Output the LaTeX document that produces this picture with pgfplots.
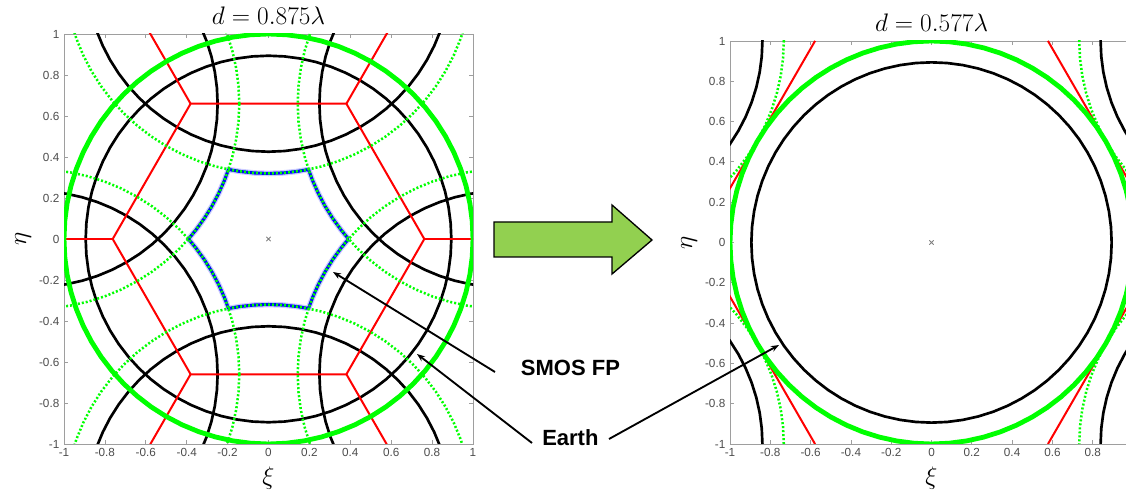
\RequirePackage{fix-cm}
\documentclass[border=0pt]{standalone}
\usepackage{fontspec}
\setmainfont{Liberation Sans}
\usepackage{pgfplots}
\pgfplotsset{compat=1.18}
\usepackage{pgfplotstable}
\usetikzlibrary{arrows.meta}

\definecolor{lgreen}{RGB}{0,255,0}
\definecolor{agreen}{RGB}{146,208,80}

% unit circle (5 degree steps)
\pgfplotstableread{
c s
1.0000 0.0000
0.9962 0.0872
0.9848 0.1736
0.9659 0.2588
0.9397 0.3420
0.9063 0.4226
0.8660 0.5000
0.8192 0.5736
0.7660 0.6428
0.7071 0.7071
0.6428 0.7660
0.5736 0.8192
0.5000 0.8660
0.4226 0.9063
0.3420 0.9397
0.2588 0.9659
0.1736 0.9848
0.0872 0.9962
0.0000 1.0000
-0.0872 0.9962
-0.1736 0.9848
-0.2588 0.9659
-0.3420 0.9397
-0.4226 0.9063
-0.5000 0.8660
-0.5736 0.8192
-0.6428 0.7660
-0.7071 0.7071
-0.7660 0.6428
-0.8192 0.5736
-0.8660 0.5000
-0.9063 0.4226
-0.9397 0.3420
-0.9659 0.2588
-0.9848 0.1736
-0.9962 0.0872
-1.0000 0.0000
-0.9962 -0.0872
-0.9848 -0.1736
-0.9659 -0.2588
-0.9397 -0.3420
-0.9063 -0.4226
-0.8660 -0.5000
-0.8192 -0.5736
-0.7660 -0.6428
-0.7071 -0.7071
-0.6428 -0.7660
-0.5736 -0.8192
-0.5000 -0.8660
-0.4226 -0.9063
-0.3420 -0.9397
-0.2588 -0.9659
-0.1736 -0.9848
-0.0872 -0.9962
0.0000 -1.0000
0.0872 -0.9962
0.1736 -0.9848
0.2588 -0.9659
0.3420 -0.9397
0.4226 -0.9063
0.5000 -0.8660
0.5736 -0.8192
0.6428 -0.7660
0.7071 -0.7071
0.7660 -0.6428
0.8192 -0.5736
0.8660 -0.5000
0.9063 -0.4226
0.9397 -0.3420
0.9659 -0.2588
0.9848 -0.1736
0.9962 -0.0872
1.0000 0.0000
}\uc

% SMOS alias-free field of view boundary (d = 0.875 lambda)
\pgfplotstableread{
x y
0.39144 0.00000
0.35485 0.04414
0.31383 0.10064
0.27683 0.15983
0.24407 0.22147
0.21562 0.28526
0.19572 0.33899
0.13917 0.32939
0.06976 0.32210
0.00000 0.31966
-0.06976 0.32210
-0.13917 0.32939
-0.19572 0.33899
-0.21562 0.28526
-0.24407 0.22147
-0.27683 0.15983
-0.31383 0.10064
-0.35485 0.04414
-0.39144 0.00000
-0.35485 -0.04414
-0.31383 -0.10064
-0.27683 -0.15983
-0.24407 -0.22147
-0.21562 -0.28526
-0.19572 -0.33899
-0.13917 -0.32939
-0.06976 -0.32210
0.00000 -0.31966
0.06976 -0.32210
0.13917 -0.32939
0.19572 -0.33899
0.21562 -0.28526
0.24407 -0.22147
0.27683 -0.15983
0.31383 -0.10064
0.35485 -0.04414
0.39144 0.00000
}\fovA

\newcommand{\circplot}[4]{\addplot[#1] table[x expr={#2*\thisrow{c}+(#3)}, y expr={#2*\thisrow{s}+(#4)}]{\uc};}

\pgfplotsset{
  myax/.style={
    scale only axis,
    xmin=-1, xmax=1, ymin=-1, ymax=1,
    xtick={-1,-0.8,-0.6,-0.4,-0.2,0,0.2,0.4,0.6,0.8,1},
    ytick={-1,-0.8,-0.6,-0.4,-0.2,0,0.2,0.4,0.6,0.8,1},
    tick align=inside,
    major tick length=3pt,
    axis line style={black!38, line width=0.6pt},
    every tick/.style={black!38, line width=0.6pt},
    ticklabel style={font=\fontsize{8.8}{10}\selectfont, text=black!70},
    /pgf/number format/assume math mode=true,
    xlabel={$\xi$}, ylabel={$\eta$},
    label style={font=\fontsize{19}{22}\selectfont},
    title style={font=\fontsize{19}{21}\selectfont, at={(0.5,1)}, anchor=base, yshift=0.75pt},
  },
  blk/.style={black, line width=2pt, line join=round},
  gdot/.style={lgreen, line width=1.9pt, dash pattern=on 1.5pt off 1.5pt},
  gthick/.style={lgreen, line width=3.6pt, line join=round},
  hexl/.style={red, line width=1.5pt, line join=round},
}

\begin{document}
\begin{tikzpicture}
\path[use as bounding box] (0pt,0pt) rectangle (844.5pt,368.25pt);
\clip (0pt,0pt) rectangle (844.5pt,368.25pt);

% ---------------- left: d = 0.875 lambda ----------------
\begin{axis}[myax, at={(48pt,35.25pt)}, anchor=south west,
  width=306.75pt, height=307.5pt,
  title={$d=0.875\lambda$},
  xlabel style={at={(0.5,-0.0976)}, anchor=base},
  ylabel style={at={(-0.0929,0.5)}, anchor=base}]
  % Earth aliases
  \circplot{blk}{0.894}{0}{0}
  \circplot{blk}{0.894}{0}{1.31966}
  \circplot{blk}{0.894}{0}{-1.31966}
  \circplot{blk}{0.894}{1.14286}{0.65983}
  \circplot{blk}{0.894}{1.14286}{-0.65983}
  \circplot{blk}{0.894}{-1.14286}{0.65983}
  \circplot{blk}{0.894}{-1.14286}{-0.65983}
  % hexagonal period
  \addplot[hexl] coordinates {(0.76190,0) (0.38095,0.65983) (-0.38095,0.65983) (-0.76190,0) (-0.38095,-0.65983) (0.38095,-0.65983) (0.76190,0)};
  \addplot[hexl] coordinates {(0.76190,0) (1.52381,0)};
  \addplot[hexl] coordinates {(-0.76190,0) (-1.52381,0)};
  \addplot[hexl] coordinates {(0.38095,0.65983) (0.76190,1.31966)};
  \addplot[hexl] coordinates {(-0.38095,0.65983) (-0.76190,1.31966)};
  \addplot[hexl] coordinates {(0.38095,-0.65983) (0.76190,-1.31966)};
  \addplot[hexl] coordinates {(-0.38095,-0.65983) (-0.76190,-1.31966)};
  % SMOS FP
  \addplot[blue!20, line width=4.2pt, line join=round] table[x=x, y=y]{\fovA};
  \addplot[blue, line width=2.3pt, line join=round] table[x=x, y=y]{\fovA};
  % unit-circle aliases
  \circplot{gdot}{1}{0}{1.31966}
  \circplot{gdot}{1}{0}{-1.31966}
  \circplot{gdot}{1}{1.14286}{0.65983}
  \circplot{gdot}{1}{1.14286}{-0.65983}
  \circplot{gdot}{1}{-1.14286}{0.65983}
  \circplot{gdot}{1}{-1.14286}{-0.65983}
  % Earth (unit circle)
  \circplot{gthick}{1}{0}{0}
  \addplot[black!50, mark=x, mark size=2.3pt, line width=0.6pt, only marks] coordinates {(0,0)};
\end{axis}

% ---------------- right: d = 0.577 lambda ----------------
\begin{axis}[myax, at={(547.5pt,35.25pt)}, anchor=south west,
  width=302.25pt, height=302.25pt,
  xtick={-1,-0.8,-0.6,-0.4,-0.2,0,0.2,0.4,0.6,0.8},
  title={$d=0.577\lambda$},
  xlabel style={at={(0.5,-0.0993)}, anchor=base},
  ylabel style={at={(-0.0943,0.5)}, anchor=base}]
  \circplot{blk}{0.894}{0}{0}
  \circplot{blk}{0.894}{1.73311}{1.00061}
  \circplot{blk}{0.894}{1.73311}{-1.00061}
  \circplot{blk}{0.894}{-1.73311}{1.00061}
  \circplot{blk}{0.894}{-1.73311}{-1.00061}
  % slanted edges of the hexagonal period (top and bottom edges lie just outside)
  \addplot[hexl] coordinates {(0.57770,1.00061) (1.15540,0) (0.57770,-1.00061)};
  \addplot[hexl] coordinates {(-0.57770,1.00061) (-1.15540,0) (-0.57770,-1.00061)};
  \circplot{gdot}{1}{1.73311}{1.00061}
  \circplot{gdot}{1}{1.73311}{-1.00061}
  \circplot{gdot}{1}{-1.73311}{1.00061}
  \circplot{gdot}{1}{-1.73311}{-1.00061}
  \circplot{gthick}{1}{0}{0}
  \addplot[black!50, mark=x, mark size=2.3pt, line width=0.6pt, only marks] coordinates {(0,0)};
\end{axis}

% ---------------- block arrow ----------------
\draw[black, line width=1pt, fill=agreen, line join=miter]
  (370.5pt,201.75pt) -- (459pt,201.75pt) -- (459pt,214.5pt) -- (489pt,188.25pt)
  -- (459pt,162.75pt) -- (459pt,175.5pt) -- (370.5pt,175.5pt) -- cycle;

% ---------------- annotations ----------------
\draw[black, line width=1.4pt, -{Stealth[length=6pt,width=4.5pt]}] (371.25pt,89.25pt) -- (249.75pt,164.25pt);
\draw[black, line width=1.4pt, -{Stealth[length=6pt,width=4.5pt]}] (399pt,36pt) -- (312.75pt,102.75pt);
\draw[black, line width=1.4pt, -{Stealth[length=6pt,width=4.5pt]}] (456.75pt,39pt) -- (584.25pt,109.5pt);
\node[anchor=west, inner sep=0pt, font=\fontsize{16.5}{18}\selectfont\bfseries] at (390.5pt,92.5pt) {SMOS FP};
\node[anchor=west, inner sep=0pt, font=\fontsize{16.5}{18}\selectfont\bfseries] at (406.5pt,40.1pt) {Earth};
\end{tikzpicture}
\end{document}
